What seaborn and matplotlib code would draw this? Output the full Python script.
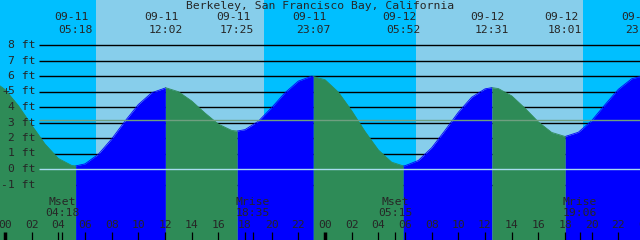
import numpy as np
import pandas as pd
import matplotlib
matplotlib.use("Agg")
import matplotlib.pyplot as plt
import seaborn as sns

# -----------------------------
# Data (hours counted from 09-11 00:00)
# -----------------------------
hours = list(range(-1, 49))
heights = [5.75, 5.13, 4.09, 2.83, 1.61, 0.68, 0.23, 0.33, 0.95, 1.94,
           3.09, 4.16, 4.92, 5.22, 4.99, 4.39, 3.61, 2.90, 2.49, 2.54,
           3.08, 3.96, 4.92, 5.67, 5.99, 5.76, 4.96, 3.76, 2.42, 1.23,
           0.44, 0.21, 0.55, 1.37, 2.49, 3.66, 4.63, 5.17, 5.19, 4.72,
           3.92, 3.04, 2.36, 2.10, 2.37, 3.12, 4.15, 5.14, 5.82, 5.99]

ext_time = [-1.60, 5.30, 12.03, 17.42, 23.12, 29.87, 36.52, 42.02, 47.80]
ext_height = [5.85, 0.20, 5.25, 2.45, 5.97, 0.20, 5.25, 2.10, 6.00]
ext_kind = ["H", "L", "H", "L", "H", "L", "H", "L", "H"]
ext_date = ["09-10", "09-11", "09-11", "09-11", "09-11", "09-12", "09-12", "09-12", "09-12"]
ext_clock = ["22:24", "05:18", "12:02", "17:25", "23:07", "05:52", "12:31", "18:01", "23:48"]

sunrise = [6.83, 30.83]
sunset = [19.42, 43.35]

moon_time = [4.30, 18.58, 29.25, 43.10]
moon_event = ["Mset", "Mrise", "Mset", "Mrise"]
moon_clock = ["04:18", "18:35", "05:15", "19:06"]

levels = [-1, 0, 1, 2, 3, 4, 5, 6, 7, 8]
mean_level = 3.16
title = "Berkeley, San Francisco Bay, California"

# -----------------------------
# Style / canvas
# -----------------------------
sns.set_theme(style="white")
plt.rcParams["font.family"] = ["DejaVu Sans Mono"]

NIGHT = "#00bfff"
DAY = "#87ceeb"
RISE = "#0000ff"
FALL = "#2e8b57"

px_h = 320 / 24          # pixels per hour
px_ft = 15.5             # pixels per foot
x0, x1 = -5 / px_h, 635 / px_h
y0, y1 = -71 / px_ft, 169 / px_ft


def ypx(p):
    # pixel row from top -> feet
    return (169 - p) / px_ft


def xpx(p):
    return (p - 5) / px_h


fig = plt.figure(figsize=(6.4, 2.4), dpi=100)
ax = fig.add_axes([0, 0, 1, 1])

# sky
ax.axvspan(x0, x1, color=NIGHT, zorder=0, lw=0)
for a, b in zip(sunrise, sunset):
    ax.axvspan(a, b, color=DAY, zorder=0.5, lw=0)

# grid lines
ax.hlines([v for v in levels if v != 0], xpx(39), x1, color="black", lw=1, zorder=1)

# -----------------------------
# Water curve, coloured by rising / falling
# -----------------------------
df = pd.DataFrame({"t": hours + ext_time, "h": heights + ext_height})
df = df.sort_values("t").drop_duplicates("t").reset_index(drop=True)

parts = []
for i in range(len(ext_time) + 1):
    lo = ext_time[i - 1] if i > 0 else -99
    hi = ext_time[i] if i < len(ext_time) else 99
    part = df[(df["t"] >= lo) & (df["t"] <= hi)].copy()
    if part.empty:
        continue
    prev_kind = ext_kind[i - 1] if i > 0 else "L"
    part["dir"] = "fall" if prev_kind == "H" else "rise"
    part["seg"] = i
    parts.append(part)
    ax.fill_between(part["t"], part["h"], y0,
                    color=FALL if prev_kind == "H" else RISE, lw=0, zorder=2)
curve = pd.concat(parts, ignore_index=True)
sns.lineplot(data=curve, x="t", y="h", hue="dir", units="seg", estimator=None,
             palette={"fall": FALL, "rise": RISE}, legend=False, lw=0.6,
             ax=ax, zorder=2.1)
ax.set_xlim(x0, x1)
ax.set_ylim(y0, y1)
ax.set_axis_off()

# datum and mean lines
ax.hlines(0, xpx(39), x1, color="#a8dcef", lw=1, zorder=3)
ax.hlines(mean_level, xpx(39), x1, color="#6f9f80", lw=1, zorder=3)

# -----------------------------
# Text
# -----------------------------
fs = 8.2
ax.text(xpx(320), ypx(6), title, ha="center", va="center", fontsize=fs, zorder=5)
for t, d, c in zip(ext_time, ext_date, ext_clock):
    if t < x0:
        continue
    ax.text(t - 0.3, ypx(17), d, ha="center", va="center", fontsize=fs, zorder=5)
    ax.text(t, ypx(29.5), c, ha="center", va="center", fontsize=fs, zorder=5)

for v in levels:
    ax.text(xpx(35), v, f"{v} ft", ha="right", va="center", fontsize=fs, zorder=5)
ax.text(xpx(6), 5, "+", ha="center", va="center", fontsize=fs, zorder=5)

for t, e, c in zip(moon_time, moon_event, moon_clock):
    ax.text(t, ypx(202), e, ha="center", va="center", fontsize=fs, zorder=5)
    ax.text(t, ypx(213), c, ha="center", va="center", fontsize=fs, zorder=5)

# hour ticks
tick_hours = list(range(0, 49, 2))
for h in tick_hours:
    ax.text(h, ypx(225), f"{h % 24:02d}", ha="center", va="center", fontsize=fs, zorder=5)
    ax.vlines(h, y0, ypx(232), color="black", lw=2.5 if h % 24 == 0 else 0.9, zorder=5)
ax.vlines(moon_time, y0, ypx(232), color="black", lw=0.9, zorder=5)

fig.savefig("out.png", dpi=100)
